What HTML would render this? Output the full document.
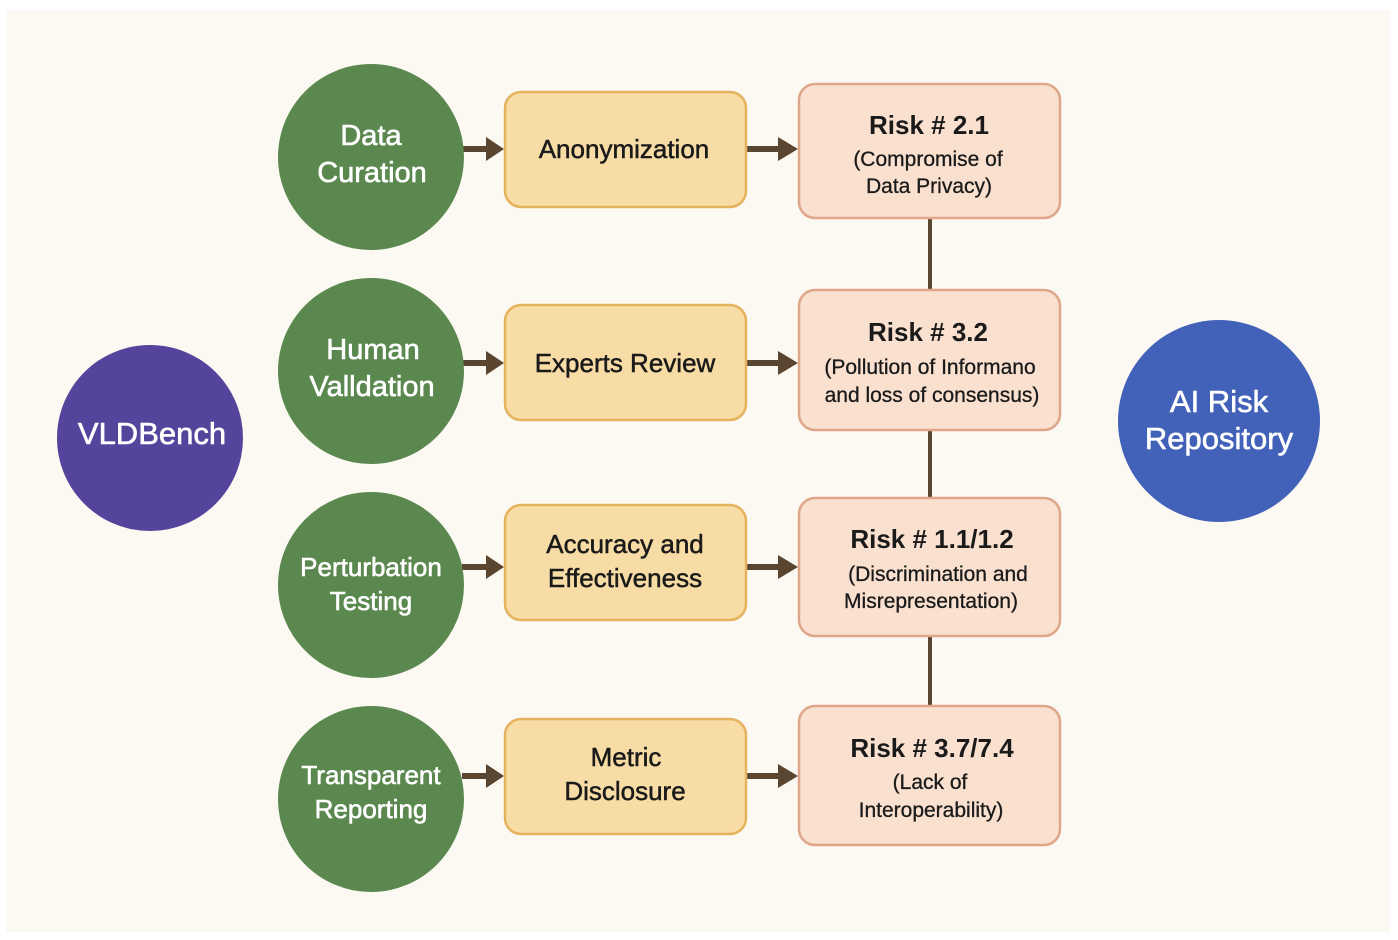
<!DOCTYPE html>
<html><head><meta charset="utf-8"><style>
html,body{margin:0;padding:0;background:#fff;}
svg{display:block;}
text{font-family:"Liberation Sans",sans-serif;text-anchor:middle;}
.w{fill:#fff;font-size:29px;stroke:#fff;stroke-width:0.6px;}
.b{fill:#1a1a1a;font-size:26px;stroke:#1a1a1a;stroke-width:0.5px;}
.rt{fill:#1a1a1a;font-size:26px;font-weight:bold;}
.rs{fill:#1a1a1a;font-size:21px;stroke:#1a1a1a;stroke-width:0.3px;}
</style></head><body>
<svg width="1398" height="940" viewBox="0 0 1398 940">
<rect x="0" y="0" width="1398" height="940" fill="#fff"/>
<rect x="6" y="10" width="1384" height="922" fill="#fcf9f3"/>
<g stroke="#5a4530" stroke-width="4">
<line x1="930" y1="218" x2="930" y2="290"/>
<line x1="930" y1="430" x2="930" y2="498"/>
<line x1="930" y1="636" x2="930" y2="706"/>
</g>
<g fill="#5a4530">
<rect x="462" y="146" width="26" height="6"/><path d="M486,137 L504,149 L486,161z"/>
<rect x="462" y="360" width="26" height="6"/><path d="M486,351 L504,363 L486,375z"/>
<rect x="462" y="564" width="26" height="6"/><path d="M486,555 L504,567 L486,579z"/>
<rect x="462" y="773" width="26" height="6"/><path d="M486,764 L504,776 L486,788z"/>
<rect x="746" y="146" width="34" height="6"/><path d="M778,137 L798,149 L778,161z"/>
<rect x="746" y="360" width="34" height="6"/><path d="M778,351 L798,363 L778,375z"/>
<rect x="746" y="564" width="34" height="6"/><path d="M778,555 L798,567 L778,579z"/>
<rect x="746" y="773" width="34" height="6"/><path d="M778,764 L798,776 L778,788z"/>
</g>
<circle cx="150" cy="438" r="93" fill="#54449c"/>
<text class="w" x="152" y="444" style="font-size:31px">VLDBench</text>
<circle cx="1219" cy="421" r="101" fill="#4261b8"/>
<text class="w" x="1219" y="412" style="font-size:31px">AI Risk</text>
<text class="w" x="1219" y="449" style="font-size:31px">Repository</text>
<g fill="#5b884f">
<circle cx="371" cy="157" r="93"/>
<circle cx="371" cy="371" r="93"/>
<circle cx="371" cy="585" r="93"/>
<circle cx="371" cy="799" r="93"/>
</g>
<text class="w" x="371" y="145">Data</text><text class="w" x="372" y="182">Curation</text>
<text class="w" x="373" y="359">Human</text><text class="w" x="372" y="396">Valldation</text>
<text class="w" x="371" y="576" style="font-size:26px">Perturbation</text><text class="w" x="371" y="610" style="font-size:26px">Testing</text>
<text class="w" x="371" y="784" style="font-size:26px">Transparent</text><text class="w" x="371" y="818" style="font-size:26px">Reporting</text>
<g fill="#f8dca5" stroke="#e6b25e" stroke-width="2.5">
<rect x="505" y="92" width="241" height="115" rx="16"/>
<rect x="505" y="305" width="241" height="115" rx="16"/>
<rect x="505" y="505" width="241" height="115" rx="16"/>
<rect x="505" y="719" width="241" height="115" rx="16"/>
</g>
<text class="b" x="624" y="158">Anonymization</text>
<text class="b" x="625" y="372">Experts Review</text>
<text class="b" x="625" y="553">Accuracy and</text><text class="b" x="625" y="587">Effectiveness</text>
<text class="b" x="626" y="766">Metric</text><text class="b" x="625" y="800">Disclosure</text>
<g fill="#f9e0cf" stroke="#dfa68a" stroke-width="2.5">
<rect x="799" y="84" width="261" height="134" rx="16"/>
<rect x="799" y="290" width="261" height="140" rx="16"/>
<rect x="799" y="498" width="261" height="138" rx="16"/>
<rect x="799" y="706" width="261" height="139" rx="16"/>
</g>
<text class="rt" x="929" y="134">Risk # 2.1</text>
<text class="rs" x="928" y="166">(Compromise of</text><text class="rs" x="929" y="193">Data Privacy)</text>
<text class="rt" x="928" y="341">Risk # 3.2</text>
<text class="rs" x="930" y="374">(Pollution of Informano</text><text class="rs" x="932" y="402">and loss of consensus)</text>
<text class="rt" x="932" y="548">Risk # 1.1/1.2</text>
<text class="rs" x="938" y="581">(Discrimination and</text><text class="rs" x="931" y="608">Misrepresentation)</text>
<text class="rt" x="932" y="757">Risk # 3.7/7.4</text>
<text class="rs" x="930" y="789">(Lack of</text><text class="rs" x="931" y="817">Interoperability)</text>
</svg>
</body></html>
